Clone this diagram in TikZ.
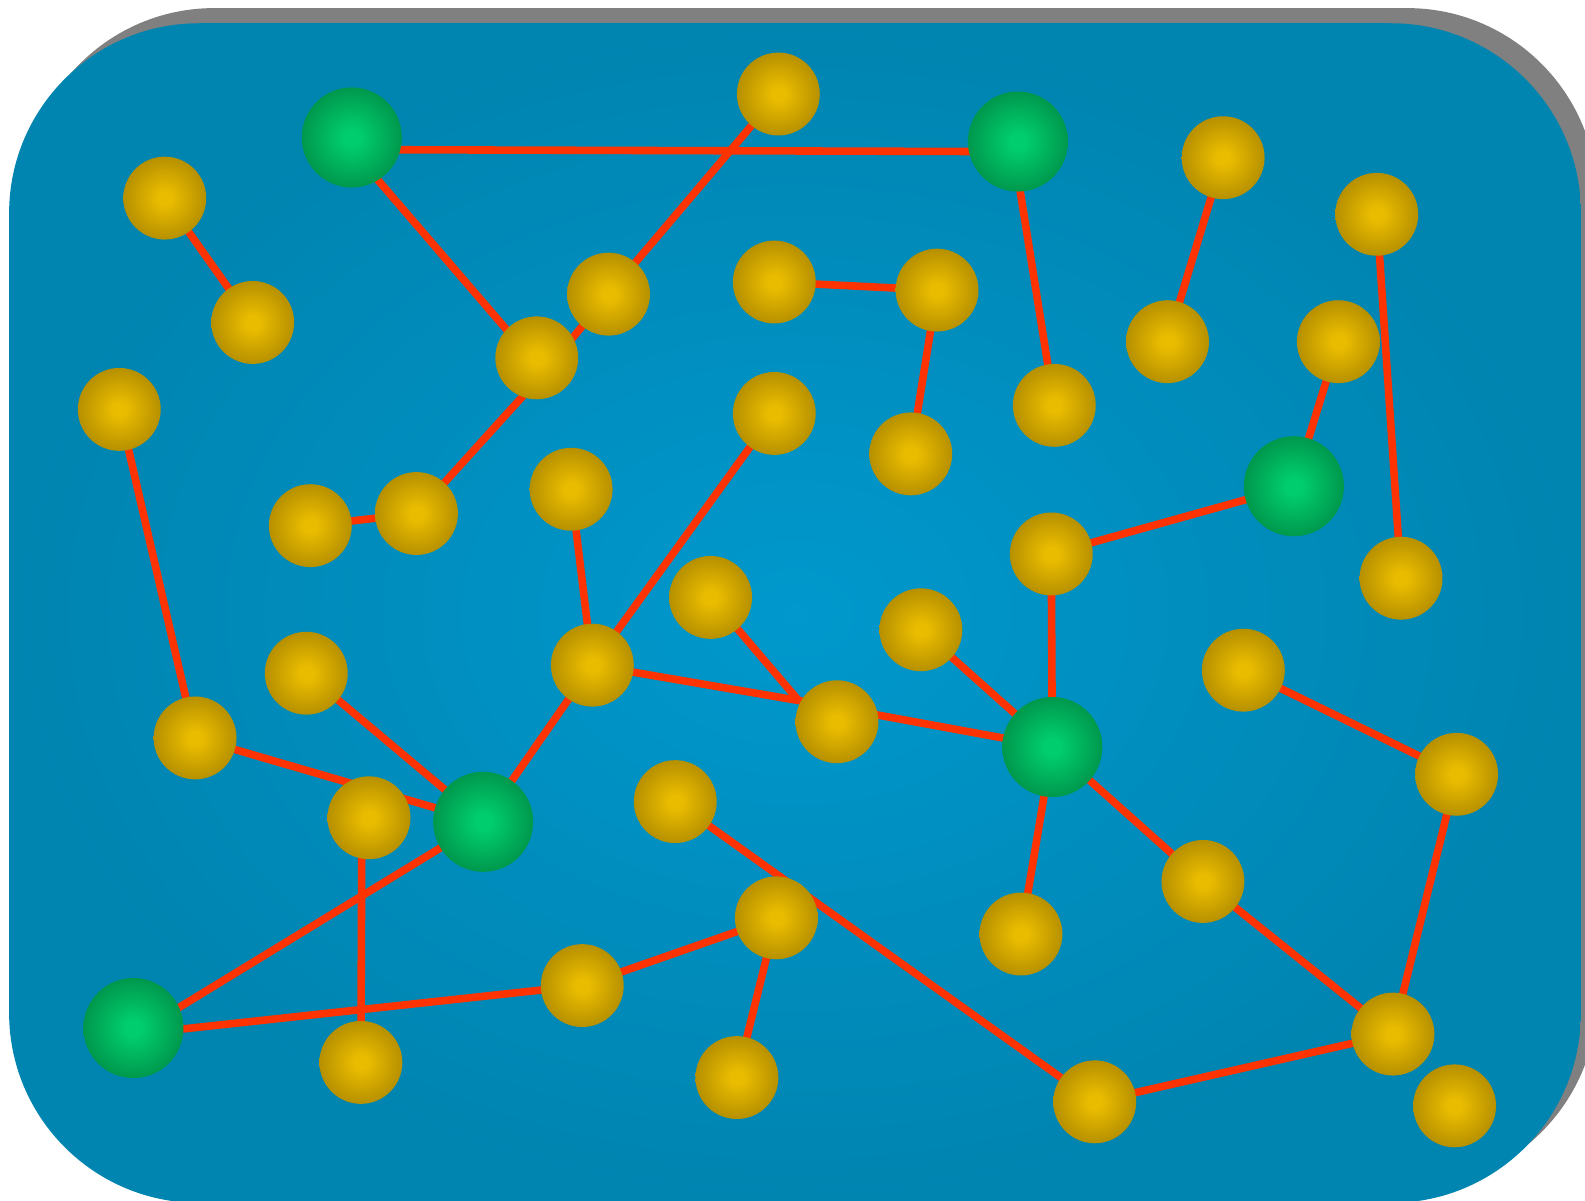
\documentclass[tikz,border=0pt]{standalone}
\usetikzlibrary{backgrounds}
\definecolor{bgInColor}{RGB}{0,152,205}
\definecolor{bgOutColor}{RGB}{0,132,176}
\definecolor{shadowColor}{RGB}{128,128,128}
\definecolor{leafInColor}{RGB}{234,188,0}
\definecolor{leafOutColor}{RGB}{182,144,0}
\definecolor{hubInColor}{RGB}{0,205,110}
\definecolor{hubOutColor}{RGB}{0,152,76}
\definecolor{linkColor}{RGB}{255,51,0}
\pgfdeclareradialshading{panelshade}{\pgfpoint{0bp}{0bp}}{color(0bp)=(bgInColor); color(25bp)=(bgOutColor); color(50bp)=(bgOutColor)}
\pgfdeclareradialshading{leafshade}{\pgfpoint{0bp}{0bp}}{color(0bp)=(leafInColor); color(4bp)=(leafInColor); color(25bp)=(leafOutColor); color(50bp)=(leafOutColor)}
\pgfdeclareradialshading{hubshade}{\pgfpoint{0bp}{0bp}}{color(0bp)=(hubInColor); color(4bp)=(hubInColor); color(25bp)=(hubOutColor); color(50bp)=(hubOutColor)}
\pgfdeclarelayer{panel}
\pgfdeclarelayer{links}
\pgfsetlayers{panel,links,main}

\begin{document}
\begin{tikzpicture}[
    x=1pt, y=-1pt,
    leaf/.style={circle, minimum size=82pt, inner sep=0pt, shade, shading=leafshade},  % small yellow balls
    hub/.style={circle, minimum size=99pt, inner sep=0pt, shade, shading=hubshade},     % big green balls
    link/.style={draw=linkColor, line width=7.5pt}
]

% Frame of the picture
\clip (0,0) rectangle (1568,1188);

% Panel with its shadow
\begin{pgfonlayer}{panel}
\fill[shadowColor, rounded corners=188pt] (24,8) rectangle (1580,1175);
\shade[shading=panelshade, rounded corners=188pt] (9,23) rectangle (1564,1190);
\end{pgfonlayer}

% Hubs
\foreach \n/\x/\y in {h1/348/136, h2/1007/140, h3/1280/481, h4/1041/739, h5/478/813, h6/132/1017} {
    \node[hub] (\n) at (\x,\y) {};
    \coordinate (\n-p) at (\n.center);
}

% Leaves
\foreach \n/\x/\y in {n1/163/196, n2/250/319, n3/118/405, n4/770/93, n5/602/291, n6/531/354,
    n7/412/508, n8/307/520, n9/766/279, n10/927/287, n11/766/409, n12/901/449, n13/565/484,
    n14/1210/156, n15/1362/212, n16/1155/338, n17/1324/338, n18/1043/401, n19/1040/548,
    n20/1386/572, n21/703/591, n22/911/623, n23/586/658, n24/303/666, n25/193/730,
    n26/828/714, n27/1230/663, n28/1441/766, n29/365/809, n30/668/793, n31/768/908,
    n32/1190/872, n33/1010/924, n34/576/975, n35/357/1051, n36/729/1066, n37/1083/1090,
    n38/1378/1023, n39/1439/1094} {
    \node[leaf] (\n) at (\x,\y) {};
    \coordinate (\n-p) at (\n.center);
}

% some links do not meet their ball in the middle
\coordinate (h1-p) at ([shift={(0,12)}]h1.center);
\coordinate (h2-p) at ([shift={(-4,10)}]h2.center);
\coordinate (h6-p) at ([shift={(2,6)}]h6.center);
\coordinate (n6-p) at ([shift={(7,15)}]n6.center);
\coordinate (n26-p) at ([shift={(-38,-21)}]n26.center);
\coordinate (n29-p) at ([shift={(-7,0)}]n29.center);

% Links between the balls
\begin{pgfonlayer}{links}
\foreach \a/\b in {h1/h2, h1/n6, n4/n5, n5/n6, n6/n7, n7/n8, n1/n2, n3/n25, n9/n10, n10/n12,
    h2/n18, n14/n16, n15/n20, n17/h3, h3/n19, n19/h4, n11/n23, n13/n23, n23/n26, n21/n26,
    n26/h4, n22/h4, n23/h5, n24/h5, n25/h5, n29/n35, h5/h6, h6/n34, n34/n31, n31/n36,
    n30/n37, h4/n33, h4/n32, n32/n38, n37/n38, n27/n28, n28/n38} {
    \draw[link] (\a-p) -- (\b-p);
}
\end{pgfonlayer}

\end{tikzpicture}
\end{document}
